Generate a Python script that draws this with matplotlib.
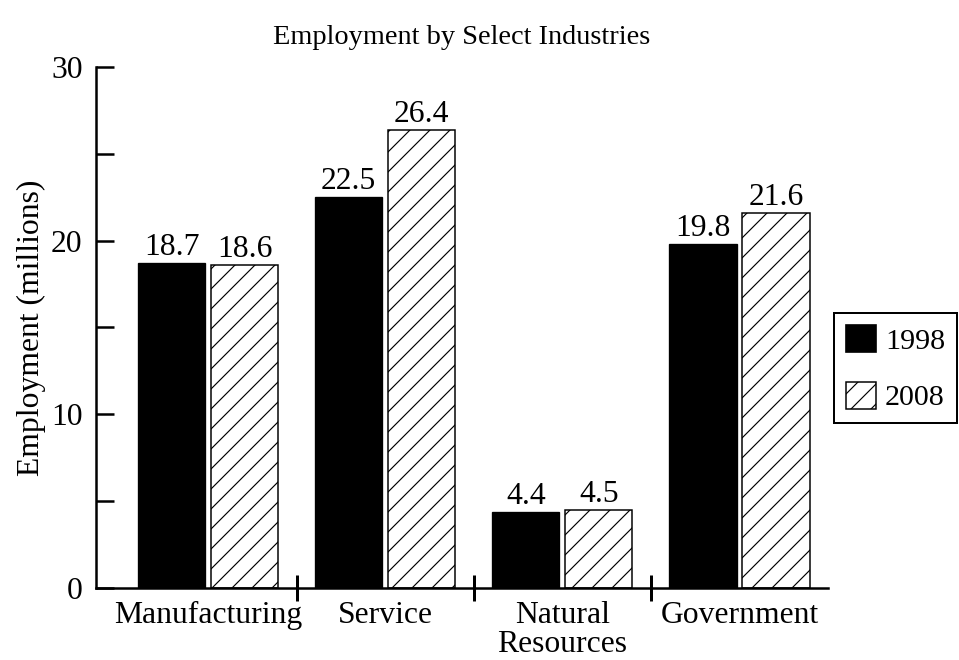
import matplotlib
matplotlib.use("Agg")
import matplotlib.pyplot as plt
import numpy as np
from matplotlib.patches import Patch

categories = ["Manufacturing", "Service", "Natural\nResources", "Government"]
series_names = ["1998", "2008"]
values_1998 = [18.7, 22.5, 4.4, 19.8]
values_2008 = [18.6, 26.4, 4.5, 21.6]
y_major = [0, 10, 20, 30]
y_minor = [5, 15, 25]

plt.rcParams['font.family'] = ['Liberation Serif', 'DejaVu Serif']
plt.rcParams['hatch.linewidth'] = 0.7

DPI = 120
fig = plt.figure(figsize=(959 / DPI, 660 / DPI), dpi=DPI)
ax = fig.add_axes([0.1001, 0.1091, 0.7633, 0.7894])

x = np.arange(len(categories))
w = 0.38
off = 0.206
b1 = ax.bar(x - off, values_1998, w, color='black', edgecolor='black', linewidth=0.8)
b2 = ax.bar(x + off, values_2008, w, color='white', edgecolor='black', linewidth=0.9, hatch='//')

fs = 19
for bars, vals in ((b1, values_1998), (b2, values_2008)):
    for r, v in zip(bars, vals):
        ax.text(r.get_x() + r.get_width() / 2, v + 0.05, f"{v:.1f}", ha='center', va='bottom', fontsize=fs)

ax.set_ylim(0, 30)
ax.set_xlim(-0.633, 3.5)
ax.set_yticks(y_major)
ax.set_yticks(y_minor, minor=True)
ax.tick_params(axis='y', which='both', direction='in', length=10.8, width=1.5, labelsize=fs, pad=8)

ax.set_xticks(x)
ax.set_xticklabels(categories, fontsize=fs, linespacing=1.0)
ax.tick_params(axis='x', which='major', length=0, pad=8)
ax.set_xticks(x[:-1] + 0.5, minor=True)
ax.tick_params(axis='x', which='minor', direction='inout', length=16, width=1.8)

for s in ('top', 'right'):
    ax.spines[s].set_visible(False)
for s in ('left', 'bottom'):
    ax.spines[s].set_linewidth(1.5)

ax.set_ylabel("Employment (millions)", fontsize=fs, labelpad=3)
ax.set_title("Employment by Select Industries", fontsize=17, pad=14)

handles = [Patch(facecolor='black', edgecolor='black'),
           Patch(facecolor='white', edgecolor='black', hatch='//', linewidth=0.9)]
leg = fig.legend(handles, series_names, loc='upper left', bbox_to_anchor=(0.8697, 0.5258),
                 borderaxespad=0, fontsize=18, handlelength=1.0, handleheight=1.0,
                 labelspacing=0.9, handletextpad=0.3, borderpad=0.4,
                 fancybox=False, framealpha=1, edgecolor='black')
leg.get_frame().set_linewidth(1.2)

fig.savefig("out.png", dpi=DPI)
